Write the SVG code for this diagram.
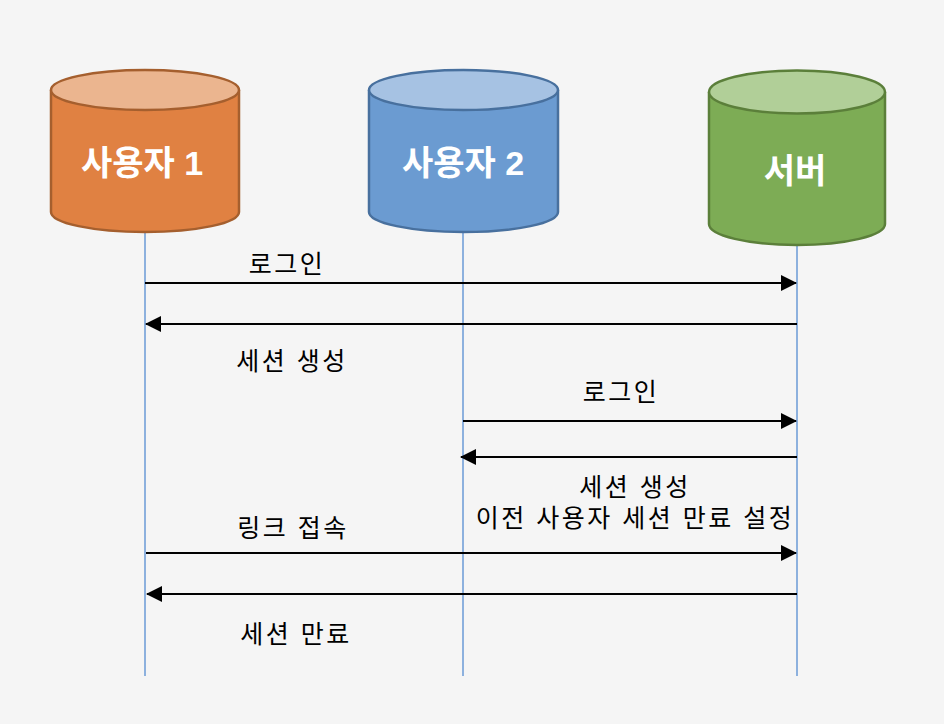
<svg xmlns="http://www.w3.org/2000/svg" width="944" height="724" viewBox="0 0 944 724">
<style>
.t{font-family:"Liberation Sans","Noto Sans CJK KR",sans-serif;font-size:25px;letter-spacing:2.5px;fill:#000;text-anchor:middle}
.h{font-family:"Liberation Sans","Noto Sans CJK KR",sans-serif;font-size:34px;font-weight:bold;fill:#fff;text-anchor:middle}
.life{stroke:#6a9ad6;stroke-width:1.5;fill:none}
.msg{stroke:#000;stroke-width:2;fill:none}
</style>
<defs>
<marker id="ah" viewBox="0 0 16 16" refX="15" refY="8" markerWidth="16" markerHeight="16" markerUnits="userSpaceOnUse" orient="auto">
<path d="M0,0 L16,8 L0,16 Z" fill="#000"/>
</marker>
</defs>
<rect width="944" height="724" fill="#f5f5f5"/>
<g id="lifelines">
<line class="life" x1="145" y1="232" x2="145" y2="676"/>
<line class="life" x1="463" y1="232" x2="463" y2="676"/>
<line class="life" x1="797" y1="245" x2="797" y2="676"/>
</g>
<g id="user1">
<path d="M51,90 L51,212 A94,20 0 0 0 239,212 L239,90" fill="#e08142" stroke="#a55f2e" stroke-width="2.5"/>
<ellipse cx="145" cy="90" rx="94" ry="20" fill="#ebb58f" stroke="#a55f2e" stroke-width="2.5"/>
<text class="h" x="142" y="175">사용자 1</text>
</g>
<g id="user2">
<path d="M369,90 L369,212 A94.5,20 0 0 0 558,212 L558,90" fill="#6b9bd1" stroke="#48709e" stroke-width="2.5"/>
<ellipse cx="463.5" cy="90" rx="94.5" ry="20" fill="#a6c2e3" stroke="#48709e" stroke-width="2.5"/>
<text class="h" x="463" y="175">사용자 2</text>
</g>
<g id="server">
<path d="M709,92 L709,224 A88,21 0 0 0 885,224 L885,92" fill="#7dac55" stroke="#5b7f3a" stroke-width="2.5"/>
<ellipse cx="797" cy="92" rx="88" ry="21.5" fill="#b1cf98" stroke="#5b7f3a" stroke-width="2.5"/>
<text class="h" x="795" y="183">서버</text>
</g>
<g id="connectors">
<line class="msg" x1="145" y1="283" x2="796" y2="283" marker-end="url(#ah)"/>
<line class="msg" x1="797" y1="324" x2="146" y2="324" marker-end="url(#ah)"/>
<line class="msg" x1="463" y1="421" x2="796" y2="421" marker-end="url(#ah)"/>
<line class="msg" x1="797" y1="457" x2="461" y2="457" marker-end="url(#ah)"/>
<line class="msg" x1="146" y1="553" x2="796" y2="553" marker-end="url(#ah)"/>
<line class="msg" x1="797" y1="594" x2="147" y2="594" marker-end="url(#ah)"/>
</g>
<g id="labels">
<text class="t" x="287" y="273">로그인</text>
<text class="t" x="292" y="370">세션 생성</text>
<text class="t" x="621" y="401">로그인</text>
<text class="t" x="635" y="496">세션 생성</text>
<text class="t" x="635" y="527">이전 사용자 세션 만료 설정</text>
<text class="t" x="293" y="537">링크 접속</text>
<text class="t" x="296" y="643">세션 만료</text>
</g>
</svg>
